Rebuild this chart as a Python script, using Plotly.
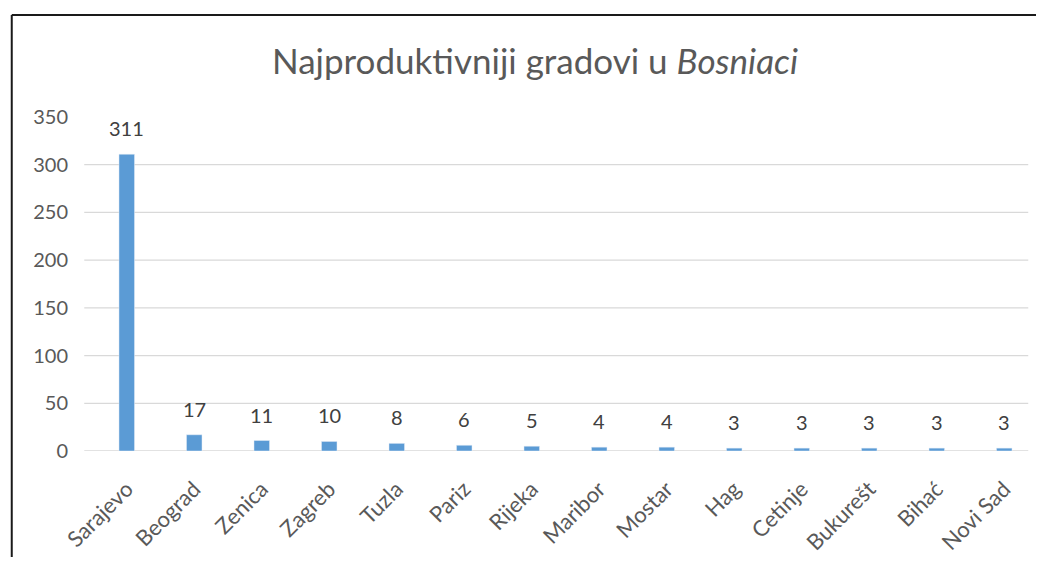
import plotly.graph_objects as go

cities = ["Sarajevo", "Beograd", "Zenica", "Zagreb", "Tuzla", "Pariz", "Rijeka",
          "Maribor", "Mostar", "Hag", "Cetinje", "Bukurešt", "Bihać", "Novi Sad"]
counts = [311, 17, 11, 10, 8, 6, 5, 4, 4, 3, 3, 3, 3, 3]
y_ticks = [0, 50, 100, 150, 200, 250, 300, 350]
grid_vals = [0, 50, 100, 150, 200, 250, 300]

OFF = 8  # page body margin
W, H = 1044 - OFF, 565 - 2 * OFF
L, R = 92.75 - OFF, 1037.75 - OFF
T, B = 117.3 - OFF, 451.0 - OFF
pw, ph = R - L, B - T

FONT = "Lato, 'Open Sans', sans-serif"
TXT = "#595959"

fig = go.Figure()
fig.add_trace(go.Bar(
    x=cities, y=counts, marker_color="#5B9BD5", width=0.23,
    hoverinfo="x+y", showlegend=False,
))

for c, v in zip(cities, counts):
    fig.add_annotation(x=c, y=v, text=str(v), showarrow=False, yshift=26,
                       font=dict(family=FONT, size=20, color="#404040"))

gx0 = (84 - OFF - L) / pw
gx1 = (1028 - OFF - L) / pw
shapes = []
for g in grid_vals:
    shapes.append(dict(type="line", xref="paper", yref="y", x0=gx0, x1=gx1, y0=g, y1=g,
                       line=dict(color="#D9D9D9", width=1.3), layer="below"))

# outer chart border: only top and left edges are visible in the picture
bx0 = (11.5 - OFF - L) / pw
bx1 = (W - L) / pw
by1 = (B - (15.5 - OFF)) / ph
by0 = (B - H) / ph
shapes.append(dict(type="line", xref="paper", yref="paper", x0=bx0, x1=bx1, y0=by1, y1=by1,
                   line=dict(color="#1a1a1a", width=2)))
shapes.append(dict(type="line", xref="paper", yref="paper", x0=bx0, x1=bx0, y0=by0, y1=by1,
                   line=dict(color="#1a1a1a", width=2)))

fig.update_layout(
    width=W, height=H,
    margin=dict(l=L, r=W - R, t=T, b=H - B, pad=0, autoexpand=False),
    paper_bgcolor="white", plot_bgcolor="white",
    title=dict(text="Najproduktivniji gradovi u <i>Bosniaci</i>", x=(535 - OFF) / W, xanchor="center",
               y=1 - (62 - OFF) / H, yanchor="middle",
               font=dict(family=FONT, size=35, color=TXT)),
    shapes=shapes,
    font=dict(family=FONT, color=TXT),
)
fig.update_xaxes(range=[-0.5, 13.5], tickangle=-45, showgrid=False, showline=False, automargin=False,
                 ticks="", tickfont=dict(family=FONT, size=22, color=TXT), ticklabelstandoff=20)
fig.update_yaxes(range=[0, 350], tickvals=y_ticks, showgrid=False, zeroline=False, automargin=False,
                 showline=False, ticks="", ticklabelstandoff=24,
                 tickfont=dict(family=FONT, size=20, color=TXT))

fig.write_html("out.html", config={"displayModeBar": False})
